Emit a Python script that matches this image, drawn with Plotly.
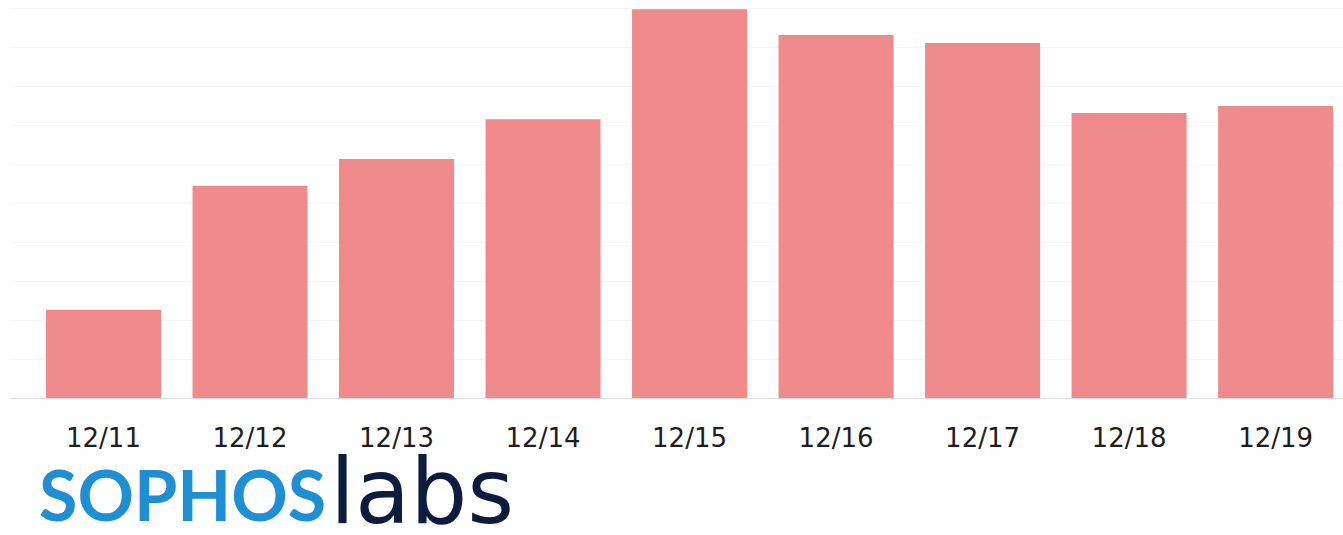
import plotly.graph_objects as go

dates = ["12/11", "12/12", "12/13", "12/14", "12/15", "12/16", "12/17", "12/18", "12/19"]
values = [2.26, 5.44, 6.13, 7.15, 9.97, 9.31, 9.10, 7.31, 7.49]

bar_color = "#ef8b8a"

fig = go.Figure(go.Bar(x=dates, y=values, marker=dict(color=bar_color, line=dict(width=0))))

fig.update_layout(
    width=1343, height=535,
    margin=dict(l=10, r=0, t=0, b=137),
    paper_bgcolor="white", plot_bgcolor="white",
    bargap=0.215,
    showlegend=False,
    xaxis=dict(
        type="category", range=[-0.638, 8.46],
        showline=True, linecolor="#dcdcdc", linewidth=1,
        showgrid=False, ticks="", ticklabelstandoff=17,
        tickfont=dict(family="DejaVu Sans", size=26, color="#1e1e1e"),
    ),
    yaxis=dict(
        range=[0, 10.205], dtick=1, showticklabels=False,
        showgrid=True, gridcolor="#f6f6f6", gridwidth=1, zeroline=False,
    ),
    annotations=[
        dict(text="<b>SOPHOS</b>", xref="paper", yref="paper", x=0.020, y=-0.240,
             xanchor="left", yanchor="middle", showarrow=False,
             font=dict(family="Lato", size=70, color="#1f8fd3")),
        dict(text="labs", xref="paper", yref="paper", x=0.2385, y=-0.234,
             xanchor="left", yanchor="middle", showarrow=False,
             font=dict(family="DejaVu Sans", size=90, color="#0d1b3e")),
    ],
)

fig.write_html(
    "out.html",
    config={"displayModeBar": False},
    post_script="document.body.style.margin='0';document.body.style.overflow='hidden';",
)
